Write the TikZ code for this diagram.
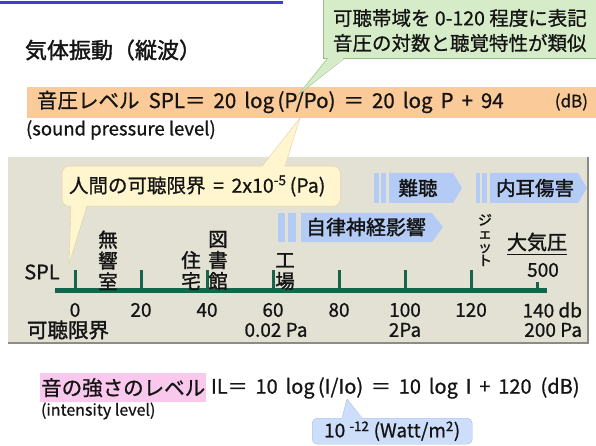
\documentclass[tikz,border=0pt]{standalone}
\usepackage{fontspec}
\setmainfont{Noto Sans CJK JP}[RawFeature={embolden=0.8}]
\newfontfamily\heavy{Noto Sans CJK JP}[RawFeature={embolden=1.6}]
\definecolor{ink}{RGB}{20,20,20}
\definecolor{bluebar}{RGB}{60,60,215}
\definecolor{greenfill}{RGB}{214,236,200}
\definecolor{greenline}{RGB}{150,190,130}
\definecolor{orangefill}{RGB}{251,202,153}
\definecolor{grayfill}{RGB}{226,225,211}
\definecolor{grayline}{RGB}{140,140,130}
\definecolor{yellowfill}{RGB}{255,245,206}
\definecolor{yellowline}{RGB}{225,210,160}
\definecolor{sigfill}{RGB}{180,204,245}
\definecolor{axisgreen}{RGB}{22,100,75}
\definecolor{pinkfill}{RGB}{249,200,236}
\definecolor{bluefill}{RGB}{204,222,250}
\definecolor{blueline}{RGB}{160,188,235}
\newcommand\fsz[1]{\fontsize{#1}{#1}\selectfont}
\begin{document}
\begin{tikzpicture}[x=1pt,y=-1pt,
  lbl/.style={inner sep=0pt, outer sep=0pt, text=ink},
  vert/.style={lbl, align=center, anchor=south, font=\heavy\fontsize{19.5}{21}\selectfont},
  tickline/.style={axisgreen, line width=3pt},
  sigshape/.style={fill=sigfill},
  barshape/.style={fill=sigfill}]
\useasboundingbox (0,0) rectangle (596,446);
\fill[white] (0,0) rectangle (596,446);
% top blue rule
\draw[bluebar, line width=3pt] (0,3) -- (283,3);
% title
\node[lbl, anchor=west, font=\heavy\fsz{22}] (title) at (25,50) {気体振動（縦波）};
% orange bar
\node[fill=orangefill, minimum width=569pt, minimum height=31pt, anchor=north west, inner sep=0] (obar) at (27,87) {};
\node[lbl, anchor=west, font=\fsz{20.5}] (spl) at (37,102) {音圧レベル\ \ SPL＝\,\ 20\, log\,(P/Po)\, ＝\,\ 20\, log\, P\, +\, 94};
\node[lbl, anchor=east, font=\fsz{17}] (dbunit) at (588,102) {(dB)};
\node[lbl, anchor=west, font=\fsz{18.5}] (spleng) at (26,130) {(sound pressure level)};
% green callout
\node[draw=greenline, fill=greenfill, minimum width=280pt, minimum height=60pt, anchor=north west, inner sep=0] (gbox) at (323,-2) {};
\coordinate (gtip) at (298,95);
\fill[greenfill] (328,57) -- (gtip) -- (345,57) -- cycle;
\draw[greenline] (328,58) -- (gtip) -- (345,58);
\node[lbl, anchor=west, font=\fsz{19.5}] (g1) at (333,18) {可聴帯域を 0-120 程度に表記};
\node[lbl, anchor=west, font=\fsz{19.5}] (g2) at (333,43) {音圧の対数と聴覚特性が類似};
% gray panel
\fill[grayfill] (8,157) rectangle (588,343);
\draw[grayline, line width=1.5pt] (588,157) -- (588,343) -- (8,343);
% yellow callout
\node[draw=yellowline, fill=yellowfill, rounded corners=7pt, minimum width=278pt, minimum height=40pt, anchor=north west, inner sep=0] (ybox) at (62,166) {};
\coordinate (ytop) at (300,118);
\coordinate (ybot) at (69,264);
\fill[yellowfill] (262,167) -- (ytop) -- (285,167) -- cycle;
\draw[yellowline] (262,166) -- (ytop) -- (285,166);
\fill[yellowfill] (71,205) -- (ybot) -- (87,205) -- cycle;
\draw[yellowline] (71,206) -- (ybot) -- (87,206);
\node[lbl, anchor=west, font=\fsz{19.5}] (ytext) at (69,186) {人間の可聴限界 \,=\, 2x10\textsuperscript{-5}\,(Pa)};
% effect arrows
\fill[barshape] (374,173) rectangle (379,203);
\fill[barshape] (381,173) rectangle (386,203);
\fill[sigshape] (389,173) -- (453,173) -- (462,188) -- (453,203) -- (389,203) -- cycle;
\node[lbl, font=\heavy\fsz{19.5}] (nancho) at (418,188) {難聴};
\fill[barshape] (476,173) rectangle (480,203);
\fill[barshape] (482,173) rectangle (487,203);
\fill[sigshape] (490,173) -- (578,173) -- (587,188) -- (578,203) -- (490,203) -- cycle;
\node[lbl, font=\heavy\fsz{19.5}] (naiji) at (535,188) {内耳傷害};
\fill[barshape] (278,213) rectangle (285,242);
\fill[barshape] (288,213) rectangle (296,242);
\fill[sigshape] (301,213) -- (432,213) -- (443,227) -- (432,242) -- (301,242) -- cycle;
\node[lbl, font=\heavy\fsz{20}] (jiritsu) at (366,227) {自律神経影響};
% axis
\draw[axisgreen, line width=5pt] (55,290) -- (547,290);
\foreach \v/\x in {0/75,20/141,40/207,60/273,80/339,100/405,120/471}{
  \draw[tickline] (\x,270) -- (\x,293);
  \node[lbl, font=\fsz{19}] (n\v) at (\x,310) {\v};
}
\draw[tickline] (537,282) -- (537,293);
\node[lbl, anchor=east, font=\fsz{19}] (n140) at (582,310) {140 db};
\node[lbl, font=\fsz{20}] (axname) at (42,272) {SPL};
% labels under axis
\node[lbl, anchor=west, font=\heavy\fsz{20.5}] (kacho) at (27,330) {可聴限界};
\node[lbl, font=\fsz{19}] (p002) at (276,330) {0.02 Pa};
\node[lbl, font=\fsz{19}] (p2) at (405,330) {2Pa};
\node[lbl, anchor=east, font=\fsz{19}] (p200) at (582,330) {200 Pa};
% vertical labels
\node[vert] (mukyo) at (108,290) {無\\響\\室};
\node[vert] (jutaku) at (191,290) {住\\宅};
\node[vert] (tosho) at (218,290) {図\\書\\館};
\node[vert] (kojo) at (285,290) {工\\場};
\node[lbl, align=center, anchor=north, font=\heavy\fontsize{14}{13.5}\selectfont] (jet) at (485,214) {ジ\\ェ\\ッ\\ト};
\node[lbl, font=\heavy\fsz{20}] (taiki) at (537,242) {大気圧};
\draw[ink, line width=1.3pt] ([yshift=-3pt]taiki.south west) -- ([yshift=-3pt]taiki.south east);
\node[lbl, font=\fsz{19}] (p500) at (543,270) {500};
% intensity level
\node[fill=pinkfill, minimum width=166pt, minimum height=29pt, anchor=north west, inner sep=0] (pbox) at (40,373) {};
\node[lbl, font=\fsz{20.5}] (otono) at (pbox.center) {音の強さのレベル};
\node[lbl, anchor=west, font=\fsz{20}] (il) at (211,388) {IL＝\, 10\, log\,(I/Io)\, ＝\, 10\, log\, I\, +\, 120\ \ (dB)};
\node[lbl, anchor=west, font=\fsz{16}] (ileng) at (41,411) {(intensity level)};
% blue callout
\node[draw=blueline, fill=bluefill, rounded corners=5pt, minimum width=160pt, minimum height=26pt, anchor=north west, inner sep=0] (bbox) at (312,418) {};
\coordinate (btip) at (347,399);
\fill[bluefill] (342,419) -- (btip) -- (362,419) -- cycle;
\draw[blueline] (342,418) -- (btip) -- (362,418);
\node[lbl, font=\fsz{19}] (watt) at (bbox.center) {10 \textsuperscript{-12} (Watt/m\textsuperscript{2})};
\end{tikzpicture}
\end{document}
